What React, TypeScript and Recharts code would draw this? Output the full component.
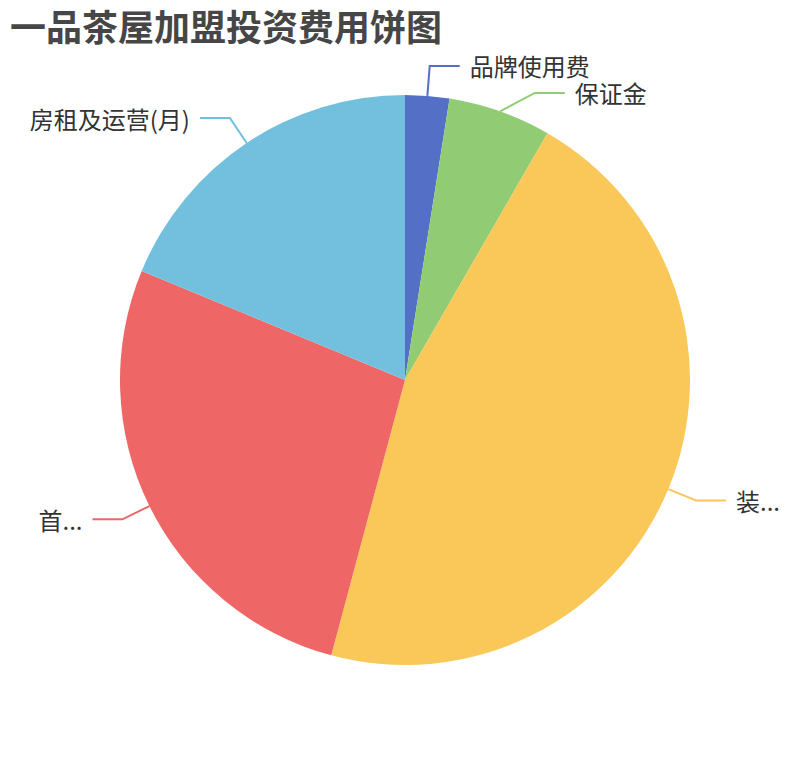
import { PieChart, Pie, Cell } from 'recharts';

// ─── Data ─────────────────────────────────────────────────────────────────────

const categories = ['品牌使用费', '保证金', '装...', '首...', '房租及运营(月)'];
const values = [3, 7, 55, 32.5, 22.5];
const colors = ['#5470c6', '#91cc75', '#fac858', '#ee6666', '#73c0de'];

const data = categories.map((name, i) => ({ name, value: values[i] }));

// ─── Layout ───────────────────────────────────────────────────────────────────

const W = 794;
const H = 744;
const CX = 397;
const CY = 372;
const R = 285;
const LEN1 = 30;   // first label line segment
const LEN2 = 30;   // horizontal segment
const LINE_H = 27; // min vertical gap between labels on one side
const RAD = Math.PI / 180;

// ECharts-style overlap push: labels on the same side are spread downward
const total = values.reduce((a, b) => a + b, 0);
const labelY: number[] = (() => {
  let acc = 0;
  const items = values.map((v, i) => {
    const mid = 90 - ((acc + v / 2) / total) * 360;
    acc += v;
    return {
      i,
      right: Math.cos(mid * RAD) >= 0,
      y: CY - (R + LEN1) * Math.sin(mid * RAD),
    };
  });
  const out: number[] = items.map(it => it.y);
  [true, false].forEach(side => {
    const list = items.filter(it => it.right === side).sort((a, b) => a.y - b.y);
    let last = -Infinity;
    list.forEach(it => {
      const y = Math.max(it.y, last + LINE_H);
      out[it.i] = y;
      last = y;
    });
  });
  return out;
})();

// ─── Label ────────────────────────────────────────────────────────────────────

function SliceLabel(props: any) {
  const { cx, cy, midAngle, outerRadius, index } = props;
  const cos = Math.cos(-midAngle * RAD);
  const sin = Math.sin(-midAngle * RAD);
  const sx = cx + outerRadius * cos;
  const sy = cy + outerRadius * sin;
  const r2 = outerRadius + LEN1;
  const ey = labelY[index] ?? cy + r2 * sin;
  const dy = ey - cy;
  const dx = Math.sqrt(Math.max(r2 * r2 - dy * dy, 0));
  const right = cos >= 0;
  const ex = right ? cx + dx : cx - dx;
  const hx = ex + (right ? LEN2 : -LEN2);
  const tx = hx + (right ? 10 : -10);

  return (
    <g>
      <polyline
        points={`${sx},${sy} ${ex},${ey} ${hx},${ey}`}
        fill="none"
        stroke={colors[index]}
        strokeWidth={2}
      />
      <text
        x={tx}
        y={ey}
        textAnchor={right ? 'start' : 'end'}
        dominantBaseline="central"
        fill="#333"
        fontSize={24}
        fontFamily='"Noto Sans CJK SC", "Noto Sans", sans-serif'
      >
        {categories[index]}
      </text>
    </g>
  );
}

// ─── Component ────────────────────────────────────────────────────────────────

export default function App() {
  return (
    <div style={{ position: 'relative', width: W, height: H }}>
      <div
        style={{
          position: 'absolute',
          left: 2,
          top: 0,
          fontSize: 36,
          fontWeight: 700,
          color: '#464646',
          fontFamily: '"Noto Sans CJK SC", sans-serif',
          lineHeight: '34px',
          whiteSpace: 'nowrap',
        }}
      >
        一品茶屋加盟投资费用饼图
      </div>
      <PieChart width={W} height={H} margin={{ top: 0, right: 0, bottom: 0, left: 0 }}>
        <Pie
          data={data}
          dataKey="value"
          nameKey="name"
          cx={CX}
          cy={CY}
          outerRadius={R}
          startAngle={90}
          endAngle={-270}
          stroke="none"
          label={SliceLabel}
          labelLine={false}
          isAnimationActive={false}
        >
          {data.map((d, i) => (
            <Cell key={d.name} fill={colors[i]} />
          ))}
        </Pie>
      </PieChart>
    </div>
  );
}
